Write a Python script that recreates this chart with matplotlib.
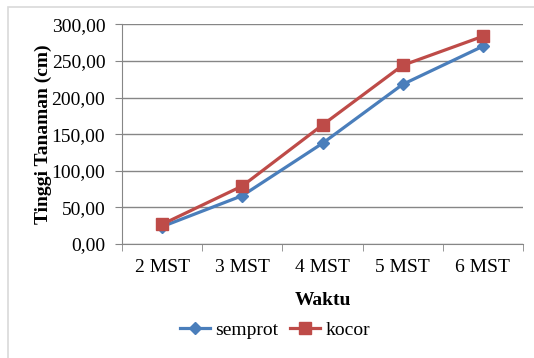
import matplotlib.pyplot as plt
from matplotlib.patches import Rectangle

# Data tinggi tanaman per minggu
waktu = ["2 MST", "3 MST", "4 MST", "5 MST", "6 MST"]
semprot = [23.7, 66.0, 137.5, 218.0, 270.0]
kocor = [26.9, 79.2, 162.5, 244.0, 283.6]

plt.rcParams["font.family"] = ["Liberation Serif", "DejaVu Serif"]

fig = plt.figure(figsize=(5.34, 3.58), dpi=100)
ax = fig.add_axes([122 / 534, 1 - 244 / 358, 401 / 534, 219.7 / 358])

# bingkai chart
fig.patches.append(Rectangle((8 / 534, -0.1), 1.2, 1 - 7 / 358 + 0.1,
                             transform=fig.transFigure, fill=False,
                             edgecolor="#d9d9d9", linewidth=1.2))

x = range(len(waktu))
ax.plot(x, semprot, color="#4a7ebb", linewidth=2.3, marker="D",
        markersize=6, label="semprot")
ax.plot(x, kocor, color="#be4b48", linewidth=2.3, marker="s",
        markersize=8.5, label="kocor")

ax.set_xlim(-0.5, len(waktu) - 0.5)
ax.set_ylim(0, 300)
ax.set_yticks(range(0, 301, 50))
ax.set_yticklabels([f"{v:.2f}".replace(".", ",") for v in range(0, 301, 50)],
                   fontsize=14)
ax.set_xticks(x)
ax.set_xticklabels(waktu, fontsize=14)
ax.set_xticks([i + 0.5 for i in range(-1, len(waktu))], minor=True)
ax.tick_params(axis="x", which="major", length=0, pad=11)
ax.tick_params(axis="x", which="minor", length=5, color="#868686")
ax.tick_params(axis="y", length=5, color="#868686", pad=7)

ax.grid(axis="y", color="#868686", linewidth=1)
ax.set_axisbelow(True)
for s in ["top", "right"]:
    ax.spines[s].set_visible(False)
for s in ["left", "bottom"]:
    ax.spines[s].set_color("#868686")

ax.set_xlabel("Waktu", fontsize=14, fontweight="bold", labelpad=11)
ax.set_ylabel("Tinggi Tanaman (cm)", fontsize=14, fontweight="bold", labelpad=0)

fig.legend(loc="center", bbox_to_anchor=(275 / 534, 1 - 330 / 358), ncol=2,
           frameon=False, prop={"family": "Liberation Serif", "size": 14},
           handlelength=1.55, handletextpad=0.25, columnspacing=0.6)

plt.savefig("out.png", dpi=100)
